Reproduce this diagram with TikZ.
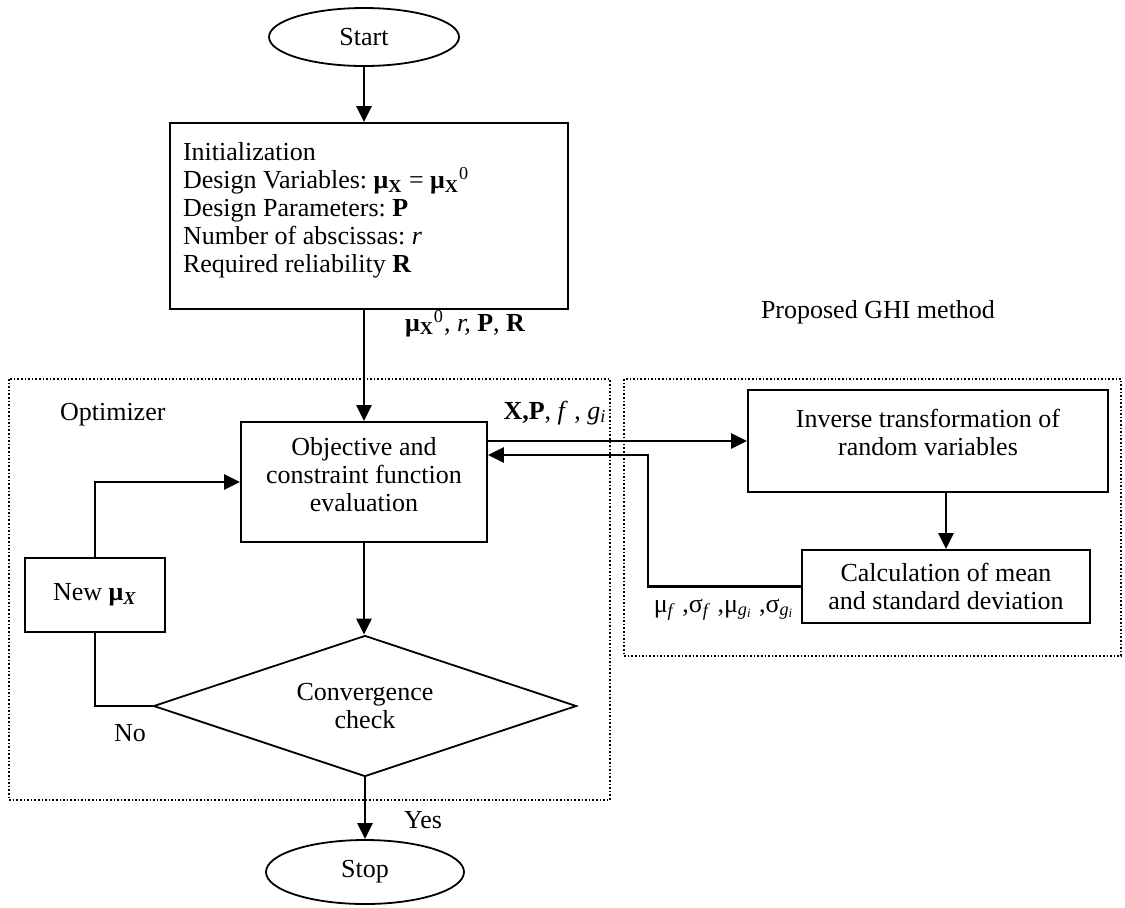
\documentclass[tikz,border=0pt]{standalone}
\usepackage{fontspec}
\setmainfont{Liberation Serif}
\usetikzlibrary{shapes.geometric, arrows.meta}
\frenchspacing

\begin{document}
\begin{tikzpicture}[x=0.5pt, y=-0.5pt, >={Triangle[length=8pt,width=7.5pt]},
  font=\fontsize{13pt}{14pt}\selectfont,
  box/.style={draw, rectangle, line width=0.9pt, inner sep=0pt, align=center},
  term/.style={draw, ellipse, line width=0.9pt, inner sep=0pt, minimum width=95pt, minimum height=29pt},
  flow/.style={->, line width=1.3pt},
  link/.style={line width=1.3pt},
  region/.style={densely dotted, line width=0.8pt}]

\useasboundingbox (0,0) rectangle (1125,907);

% Dotted regions
\draw[region] (9,379) rectangle (610,800);
\draw[region] (624,379) rectangle (1121,656);
\node[anchor=west] (optlabel) at (53,415) {Optimizer};
\node (ghilabel) at (878,312) {Proposed GHI method};

% Main flow
\node[term] (start) at (364,37) {Start};
\node[box, minimum width=199pt, minimum height=93pt, text width=186pt, align=flush left] (init) at (369,216)
  {Initialization\\
   Design Variables: \textbf{μ\textsubscript{X}} = \textbf{μ\textsubscript{X}}\textsuperscript{0}\\
   Design Parameters: \textbf{P}\\
   Number of abscissas: \textit{r}\\
   Required reliability \textbf{R}\rule[-8.5pt]{0pt}{0pt}};
\node[box, minimum width=123pt, minimum height=60pt] (obj) at (364,482)
  {Objective and\\ constraint function\\ evaluation\rule[-8pt]{0pt}{0pt}};
\node[draw, diamond, aspect=3, line width=0.9pt, inner sep=0pt, align=center,
  minimum width=211.5pt, minimum height=70.5pt] (conv) at (365,706) {Convergence\\ check};
\node[term, minimum width=99pt, minimum height=32pt] (stop) at (365,872) {Stop};
\node[box, minimum width=70pt, minimum height=37pt] (new) at (95,595)
  {New \textbf{μ}\textsubscript{\textbf{\textit{X}}}};

% GHI method
\node[box, minimum width=180pt, minimum height=51pt] (inv) at (928,441)
  {Inverse transformation of\\ random variables\rule[-9pt]{0pt}{0pt}};
\node[box, minimum width=144pt, minimum height=36.5pt] (calc) at (946,586.5)
  {Calculation of mean\\ and standard deviation};

% Connectors
\draw[flow] (start.south) -- (start.south |- init.north);
\draw[flow] (obj.north |- init.south) -- (obj.north);
\draw[flow] (obj.south) -- (obj.south |- conv.north);
\draw[flow] (conv.south) -- (conv.south |- stop.north);
\draw[link] (conv.west) -| (new.south);
\draw[flow] (new.north) |- (obj.west);
\draw[flow] (obj.east |- inv.west) -- (inv.west);
\draw[flow] (calc.north |- inv.south) -- (calc.north);
\coordinate (turn) at (648,455);
\draw[flow] (calc.west) -| (turn) -- (turn -| obj.east);

% Labels
\node[anchor=base west] (inlabel) at (398,331)
  {\textbf{μ\textsubscript{X}}\textsuperscript{0}, \textit{r,} \textbf{P}, \textbf{R}};
\node[anchor=base] (outlabel) at (555,419)
  {\textbf{X,P}, \textit{f} , \textit{g}\textsubscript{\textit{i}}};
\node[anchor=base] (backlabel) at (724,612)
  {μ\textsubscript{\textit{f}} ,σ\textsubscript{\textit{f}} ,μ\textsubscript{\textit{g}\textsubscript{\textit{i}}} ,σ\textsubscript{\textit{g}\textsubscript{\textit{i}}}};
\node (yes) at (423,820) {Yes};
\node (no) at (130,733) {No};

\end{tikzpicture}
\end{document}
